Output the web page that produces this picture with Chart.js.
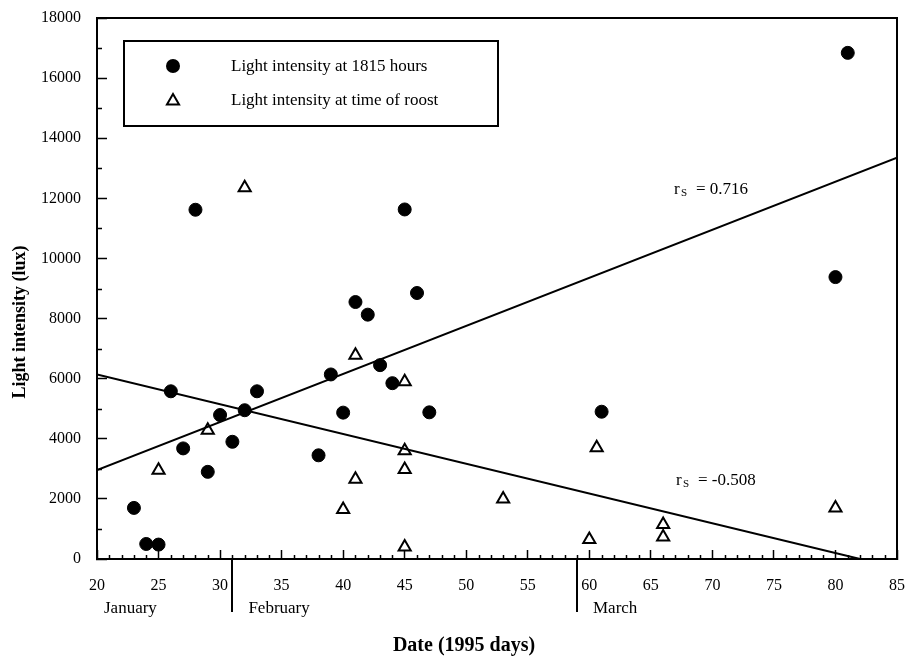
<!DOCTYPE html>
<html>
<head>
<meta charset="utf-8">
<script src="https://cdn.jsdelivr.net/npm/chart.js@4"></script>
<style>
  html, body { margin: 0; padding: 0; background: #fff; }
  #wrap { width: 906px; height: 656px; }
</style>
</head>
<body>
<div id="wrap"><canvas id="lux"></canvas></div>
<script>
// Light intensity at 1815 hours (filled circles) -------------------------------
const eveningDays = [23, 24, 25, 26, 27, 28, 29, 30, 31, 32, 33, 38, 39, 40, 41, 42, 43, 44, 45, 46, 47, 61, 80, 81];
const eveningLux = [1700, 500, 480, 5580, 3680, 11620, 2900, 4790, 3900, 4950, 5580, 3450, 6140, 4870, 8550, 8130, 6450, 5850, 11630, 8850, 4880, 4900, 9380, 16840];

// Light intensity at time of roost (open triangles) ----------------------------
const roostDays = [25, 29, 32, 40, 41, 41, 45, 45, 45, 45, 53, 60, 60.6, 66, 66, 80];
const roostLux = [2950, 4280, 12350, 1650, 2650, 6780, 5900, 3600, 2980, 400, 2000, 650, 3700, 1150, 730, 1700];

// fitted lines
const fitEveningDays = [20, 85];
const fitEveningLux = [2960, 13350];
const fitRoostDays = [20, 82];
const fitRoostLux = [6140, 0];

const xTicks = [20, 25, 30, 35, 40, 45, 50, 55, 60, 65, 70, 75, 80, 85];
const yTicks = [0, 2000, 4000, 6000, 8000, 10000, 12000, 14000, 16000, 18000];
const monthNames = ["January", "February", "March"];
const monthBreaks = [31, 59];
const legendLabels = ["Light intensity at 1815 hours", "Light intensity at time of roost"];
const rLabels = ["= 0.716", "= -0.508"];

const SERIF = "'Liberation Serif', 'Times New Roman', serif";

function pts(xs, ys) {
  return xs.map((x, i) => ({ x: x, y: ys[i] }));
}

function drawTri(ctx, x, y, r) {
  ctx.beginPath();
  ctx.moveTo(x, y - r);
  ctx.lineTo(x + r * 0.866, y + r * 0.5);
  ctx.lineTo(x - r * 0.866, y + r * 0.5);
  ctx.closePath();
  ctx.fillStyle = "#fff";
  ctx.fill();
  ctx.lineWidth = 2;
  ctx.strokeStyle = "#000";
  ctx.stroke();
}

// frame, minor ticks, months, legend, r values, axis titles
const extras = {
  id: "extras",
  afterDraw(chart) {
    const ctx = chart.ctx;
    const a = chart.chartArea;
    const xs = chart.scales.x;
    const ys = chart.scales.y;
    ctx.save();
    ctx.strokeStyle = "#000";
    ctx.fillStyle = "#000";

    // top + right frame
    ctx.lineWidth = 2;
    ctx.beginPath();
    ctx.moveTo(a.left, a.top);
    ctx.lineTo(a.right, a.top);
    ctx.lineTo(a.right, a.bottom);
    ctx.stroke();

    // minor ticks
    ctx.lineWidth = 1.5;
    ctx.beginPath();
    for (let v = 1000; v < 18000; v += 2000) {
      const py = Math.round(ys.getPixelForValue(v)) + 0.5;
      ctx.moveTo(a.left, py);
      ctx.lineTo(a.left + 5, py);
    }
    for (let d = 21; d < 85; d++) {
      if (d % 5 === 0) continue;
      const px = Math.round(xs.getPixelForValue(d)) + 0.5;
      ctx.moveTo(px, a.bottom);
      ctx.lineTo(px, a.bottom - 4);
    }
    ctx.stroke();

    // month separators and names
    ctx.lineWidth = 2;
    ctx.beginPath();
    monthBreaks.forEach(d => {
      const px = Math.round(xs.getPixelForValue(d));
      ctx.moveTo(px, a.bottom);
      ctx.lineTo(px, a.bottom + 53);
    });
    ctx.stroke();
    ctx.font = "17px " + SERIF;
    ctx.textBaseline = "middle";
    ctx.textAlign = "left";
    const starts = [a.left + 7].concat(monthBreaks.map(d => xs.getPixelForValue(d) + 16));
    monthNames.forEach((m, i) => ctx.fillText(m, starts[i], a.bottom + 50));

    // legend box
    ctx.lineWidth = 2;
    ctx.strokeRect(124, 41, 374, 85);
    ctx.beginPath();
    ctx.arc(173, 66, 7, 0, Math.PI * 2);
    ctx.fill();
    drawTri(ctx, 173, 101, 7);
    ctx.fillStyle = "#000";
    ctx.font = "17px " + SERIF;
    ctx.fillText(legendLabels[0], 231, 67);
    ctx.fillText(legendLabels[1], 231, 101);

    // r_s labels
    const rPos = [[674, 190], [676, 481]];
    rPos.forEach((p, i) => {
      ctx.font = "17px " + SERIF;
      ctx.fillText("r", p[0], p[1]);
      ctx.font = "11px " + SERIF;
      ctx.fillText("S", p[0] + 7, p[1] + 3);
      ctx.font = "17px " + SERIF;
      ctx.fillText(rLabels[i], p[0] + 22, p[1]);
    });

    // axis titles
    ctx.font = "bold 20px " + SERIF;
    ctx.textAlign = "center";
    ctx.fillText("Date (1995 days)", 464, 646);
    ctx.font = "bold 18px " + SERIF;
    ctx.translate(20, 322);
    ctx.rotate(-Math.PI / 2);
    ctx.fillText("Light intensity (lux)", 0, 0);
    ctx.restore();
  }
};

new Chart(document.getElementById("lux"), {
  type: "scatter",
  data: {
    datasets: [
      {
        type: "line",
        data: pts(fitEveningDays, fitEveningLux),
        borderColor: "#000",
        borderWidth: 2,
        pointRadius: 0,
        fill: false,
      },
      {
        type: "line",
        data: pts(fitRoostDays, fitRoostLux),
        borderColor: "#000",
        borderWidth: 2,
        pointRadius: 0,
        fill: false,
      },
      {
        label: legendLabels[0],
        data: pts(eveningDays, eveningLux),
        pointStyle: "circle",
        pointRadius: 6.5,
        backgroundColor: "#000",
        borderColor: "#000",
        borderWidth: 1,
      },
      {
        label: legendLabels[1],
        data: pts(roostDays, roostLux),
        pointStyle: "triangle",
        pointRadius: 7,
        backgroundColor: "#fff",
        borderColor: "#000",
        borderWidth: 2,
      },
    ],
  },
  options: {
    responsive: true,
    maintainAspectRatio: false,
    animation: false,
    layout: { padding: { top: 18, right: 8, left: 0, bottom: 0 } },
    scales: {
      x: {
        type: "linear",
        min: 20,
        max: 85,
        afterFit: s => { s.height = 97; s.paddingLeft = 0; s.paddingRight = 0; },
        afterBuildTicks: s => { s.ticks = xTicks.map(v => ({ value: v })); },
        border: { display: true, color: "#000", width: 2 },
        grid: { drawOnChartArea: false, drawTicks: true, tickLength: -9, tickColor: "#000", tickWidth: 1.5 },
        ticks: { color: "#000", font: { family: SERIF, size: 16 }, padding: 26, maxRotation: 0, autoSkip: false, callback: v => String(v) },
      },
      y: {
        type: "linear",
        min: 0,
        max: 18000,
        afterFit: s => { s.width = 97; s.paddingTop = 0; s.paddingBottom = 0; },
        afterBuildTicks: s => { s.ticks = yTicks.map(v => ({ value: v })); },
        border: { display: true, color: "#000", width: 2 },
        grid: { drawOnChartArea: false, drawTicks: true, tickLength: -10, tickColor: "#000", tickWidth: 1.5 },
        ticks: { color: "#000", font: { family: SERIF, size: 16 }, padding: 26, autoSkip: false, callback: v => String(v) },
      },
    },
    plugins: {
      legend: { display: false },
      tooltip: { enabled: false },
    },
  },
  plugins: [extras],
});
</script>
</body>
</html>
